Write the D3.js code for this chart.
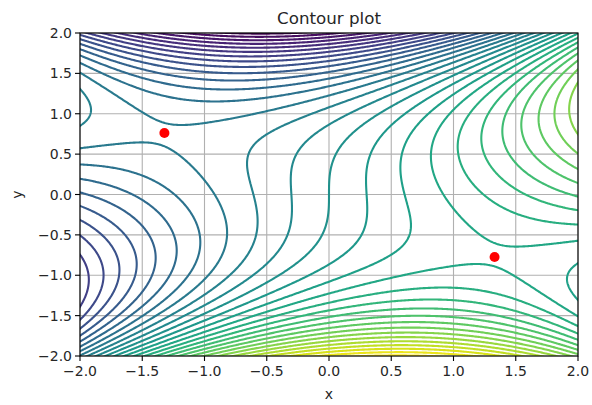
<!DOCTYPE html>
<html><head><meta charset="utf-8">
<script src="https://cdn.jsdelivr.net/npm/d3@7"></script>
<style>
html,body{margin:0;padding:0;background:#fff;}
text{font-family:"DejaVu Sans",sans-serif;fill:#262626;}
</style></head>
<body><svg id="chart" width="592" height="405"></svg>
<script>
// ---- data ----
// surface z = sum c * x^px * y^py  (terms)
const termCoef = [1.658, -0.0297, 0.75, -0.728, -0.057];
const termPowX = [1, 3, 2, 0, 0];
const termPowY = [0, 0, 1, 3, 5];
const contourLevels = [-8,-7.5,-7,-6.5,-6,-5.5,-5,-4.5,-4,-3.5,-3,-2.5,-2,-1.5,-1,-0.5,0,0.5,1,1.5,2,2.5,3,3.5,4,4.5,5,5.5,6,6.5,7,7.5,8];
const pointsX = [-1.322, 1.33];
const pointsY = [0.762, -0.775];
const xTicks = [-2.0,-1.5,-1.0,-0.5,0.0,0.5,1.0,1.5,2.0];
const yTicks = [-2.0,-1.5,-1.0,-0.5,0.0,0.5,1.0,1.5,2.0];

// ---- layout ----
const m = {left: 80, right: 578, top: 33, bottom: 356};
const svg = d3.select('#chart');
const x = d3.scaleLinear().domain([-2, 2]).range([m.left, m.right]);
const y = d3.scaleLinear().domain([-2, 2]).range([m.bottom, m.top]);

function z(px, py) {
  let s = 0;
  for (let k = 0; k < termCoef.length; k++) s += termCoef[k] * Math.pow(px, termPowX[k]) * Math.pow(py, termPowY[k]);
  return s;
}

// grid extends beyond the axes so that border rings get clipped away
const g0 = -2.2, g1 = 2.2, n = 441;
const step = (g1 - g0) / (n - 1);
const values = new Float64Array(n * n);
for (let j = 0; j < n; j++) for (let i = 0; i < n; i++) values[j * n + i] = z(g0 + i * step, g0 + j * step);

const contours = d3.contours().size([n, n]).thresholds(contourLevels)(values);
const color = d3.scaleSequential(d3.interpolateViridis).domain(d3.extent(contourLevels));

const proj = d3.geoTransform({point: function(cx, cy) {
  this.stream.point(x(g0 + (cx - 0.5) * step), y(g0 + (cy - 0.5) * step));
}});
const path = d3.geoPath(proj);

svg.append('defs').append('clipPath').attr('id', 'clip').append('rect')
  .attr('x', m.left).attr('y', m.top).attr('width', m.right - m.left).attr('height', m.bottom - m.top);

// grid
const grid = svg.append('g');
xTicks.forEach(t => grid.append('line').attr('x1', x(t)).attr('x2', x(t)).attr('y1', m.top).attr('y2', m.bottom)
  .attr('stroke', '#b0b0b0').attr('stroke-width', 1.1));
yTicks.forEach(t => grid.append('line').attr('y1', y(t)).attr('y2', y(t)).attr('x1', m.left).attr('x2', m.right)
  .attr('stroke', '#b0b0b0').attr('stroke-width', 1.1));

// contours
svg.append('g').attr('clip-path', 'url(#clip)').selectAll('path').data(contours).join('path')
  .attr('d', path).attr('fill', 'none').attr('stroke', d => color(d.value)).attr('stroke-width', 2.1)
  .attr('stroke-linejoin', 'round');

// points
svg.append('g').selectAll('circle').data(pointsX).join('circle')
  .attr('cx', (d, i) => x(pointsX[i])).attr('cy', (d, i) => y(pointsY[i])).attr('r', 5).attr('fill', '#ff0000');

// frame
svg.append('rect').attr('x', m.left).attr('y', m.top).attr('width', m.right - m.left).attr('height', m.bottom - m.top)
  .attr('fill', 'none').attr('stroke', '#000').attr('stroke-width', 1.1);

const fmt = v => (v < 0 ? '\u2212' : '') + Math.abs(v).toFixed(1);
const xa = svg.append('g');
xTicks.forEach(t => {
  xa.append('line').attr('x1', x(t)).attr('x2', x(t)).attr('y1', m.bottom).attr('y2', m.bottom + 5).attr('stroke', '#000').attr('stroke-width', 1.1);
  xa.append('text').attr('x', x(t)).attr('y', m.bottom + 20).attr('text-anchor', 'middle').attr('font-size', 14).text(fmt(t));
});
const ya = svg.append('g');
yTicks.forEach(t => {
  ya.append('line').attr('x1', m.left - 5).attr('x2', m.left).attr('y1', y(t)).attr('y2', y(t)).attr('stroke', '#000').attr('stroke-width', 1.1);
  ya.append('text').attr('x', m.left - 8).attr('y', y(t) + 5).attr('text-anchor', 'end').attr('font-size', 14).text(fmt(t));
});
svg.append('text').attr('x', (m.left + m.right) / 2).attr('y', 24).attr('text-anchor', 'middle').attr('font-size', 16.7).text('Contour plot');
svg.append('text').attr('x', (m.left + m.right) / 2).attr('y', 399).attr('text-anchor', 'middle').attr('font-size', 14).text('x');
svg.append('text').attr('transform', `translate(22,${(m.top + m.bottom) / 2}) rotate(-90)`).attr('text-anchor', 'middle').attr('font-size', 14).text('y');
</script></body></html>
